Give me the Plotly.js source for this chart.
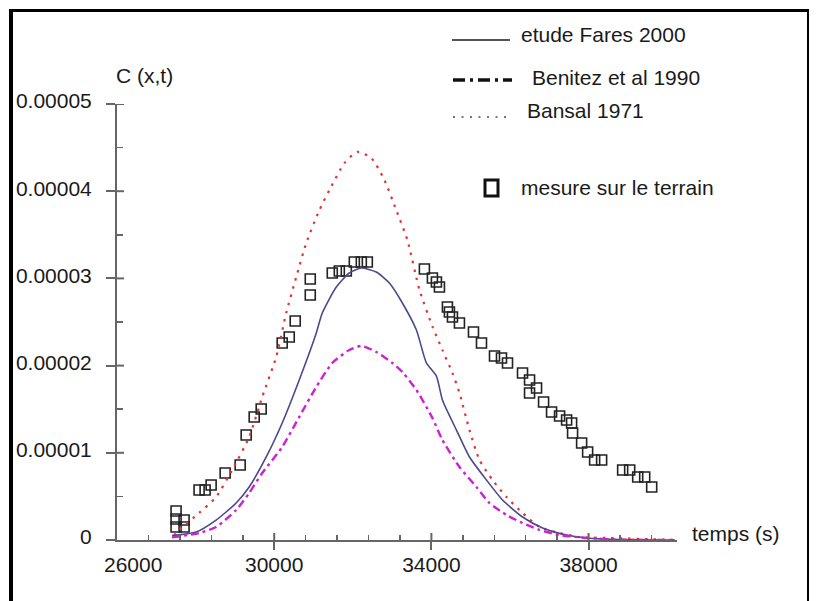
<!DOCTYPE html>
<html>
<head>
<meta charset="utf-8">
<script src="https://cdn.plot.ly/plotly-3.0.1.min.js"></script>
<style>
  html, body { margin: 0; padding: 0; background: #fff; overflow: hidden; }
  #wrap { position: relative; width: 818px; height: 601px; overflow: hidden; }
  #chart { position: absolute; left: 0; top: 0; width: 818px; height: 601px; }
  #frame { position: absolute; left: 9px; top: 9px; width: 800px; height: 700px; box-sizing: border-box;
           border-left: 4px solid #000; border-top: 3px solid #000; border-right: 2px solid #000; pointer-events: none; }
</style>
</head>
<body>
<div id="wrap"><div id="chart"></div><div id="frame"></div></div>
<script>
// ---------- data (time in s, concentration C(x,t)) ----------
const faresT = [27400, 28013, 28522, 29032, 29363, 29797, 30204, 30637, 31071, 31223, 31580, 31911, 32217, 32599, 32931, 33262, 33619, 33873, 34128, 34281, 34638, 34969, 35402, 35810, 36319, 36829, 37441, 37950, 38791, 40200];
const faresC = [0.05e-5, 0.092e-5, 0.229e-5, 0.424e-5, 0.608e-5, 0.952e-5, 1.342e-5, 1.835e-5, 2.374e-5, 2.603e-5, 2.901e-5, 3.062e-5, 3.119e-5, 3.073e-5, 2.947e-5, 2.718e-5, 2.408e-5, 2.03e-5, 1.88e-5, 1.606e-5, 1.261e-5, 0.952e-5, 0.688e-5, 0.459e-5, 0.264e-5, 0.138e-5, 0.057e-5, 0.023e-5, 0.005e-5, 0];

const benitezT = [27400, 28089, 28522, 29032, 29363, 29695, 30204, 30637, 31071, 31478, 31911, 32217, 32599, 33007, 33262, 33619, 34026, 34281, 34714, 35147, 35479, 35912, 36319, 36753, 37262, 37950, 38791, 40200];
const benitezC = [0.03e-5, 0.08e-5, 0.149e-5, 0.344e-5, 0.539e-5, 0.768e-5, 1.067e-5, 1.411e-5, 1.755e-5, 2.03e-5, 2.179e-5, 2.225e-5, 2.156e-5, 2.03e-5, 1.927e-5, 1.72e-5, 1.40e-5, 1.147e-5, 0.837e-5, 0.608e-5, 0.424e-5, 0.287e-5, 0.195e-5, 0.115e-5, 0.057e-5, 0.023e-5, 0.005e-5, 0];

const bansalT = [27450, 27580, 28089, 28522, 28930, 29363, 29695, 30051, 30306, 30561, 30816, 31147, 31402, 31784, 32115, 32472, 32803, 33083, 33389, 33695, 34026, 34281, 34536, 34714, 34969, 35224, 35556, 35912, 36319, 36753, 37262, 37772, 38460, 40200];
const bansalC = [0.05e-5, 0.115e-5, 0.31e-5, 0.493e-5, 0.803e-5, 1.181e-5, 1.64e-5, 2.099e-5, 2.603e-5, 3.016e-5, 3.406e-5, 3.78e-5, 4.01e-5, 4.32e-5, 4.45e-5, 4.38e-5, 4.13e-5, 3.81e-5, 3.44e-5, 2.87e-5, 2.45e-5, 2.179e-5, 1.915e-5, 1.686e-5, 1.261e-5, 0.917e-5, 0.688e-5, 0.493e-5, 0.31e-5, 0.149e-5, 0.08e-5, 0.034e-5, 0.023e-5, 0];

const mesureT = [27503, 27503, 27503, 27707, 27707, 28089, 28242, 28395, 28752, 29134, 29287, 29491, 29669, 30204, 30383, 30535, 30918, 30918, 31478, 31657, 31835, 32039, 32217, 32370, 33822, 34026, 34128, 34205, 34408, 34459, 34536, 34714, 35071, 35275, 35606, 35784, 35937, 36319, 36498, 36498, 36676, 36855, 37058, 37262, 37441, 37568, 37593, 37823, 37976, 38154, 38332, 38867, 39046, 39250, 39428, 39606];
const mesureC = [0.333e-5, 0.241e-5, 0.149e-5, 0.229e-5, 0.149e-5, 0.573e-5, 0.573e-5, 0.631e-5, 0.768e-5, 0.86e-5, 1.204e-5, 1.411e-5, 1.502e-5, 2.259e-5, 2.328e-5, 2.511e-5, 2.81e-5, 2.993e-5, 3.062e-5, 3.085e-5, 3.085e-5, 3.188e-5, 3.188e-5, 3.188e-5, 3.108e-5, 3.005e-5, 2.959e-5, 2.901e-5, 2.672e-5, 2.615e-5, 2.557e-5, 2.489e-5, 2.385e-5, 2.259e-5, 2.11e-5, 2.087e-5, 2.03e-5, 1.915e-5, 1.835e-5, 1.686e-5, 1.743e-5, 1.583e-5, 1.468e-5, 1.422e-5, 1.376e-5, 1.342e-5, 1.227e-5, 1.112e-5, 1.009e-5, 0.917e-5, 0.917e-5, 0.803e-5, 0.803e-5, 0.722e-5, 0.722e-5, 0.608e-5];

const seriesNames = ['etude Fares 2000', 'Benitez et al 1990', 'Bansal 1971', 'mesure sur le terrain'];

const xTickVals = [30000, 34000, 38000];
const xTickText = ['30000', '34000', '38000'];
const xFirstLabel = ['26000'];
const xMinorVals = [26800, 27600, 28400, 29200, 30800, 31600, 32400, 33200, 34800, 35600, 36400, 37200, 38800, 39600];
const yTickVals = [0, 1e-5, 2e-5, 3e-5, 4e-5, 5e-5];
const yTickText = ['0', '0.00001', '0.00002', '0.00003', '0.00004', '0.00005'];
const yMinorVals = [0.5e-5, 1.5e-5, 2.5e-5, 3.5e-5, 4.5e-5];

// ---------- layout geometry ----------
const PL = 117, PR = 677, PT = 104, PB = 540;
const PW = PR - PL, PH = PB - PT;
const px = v => (v - PL) / PW;
const py = v => (PB - v) / PH;
const FONT = 'Liberation Sans, Arial, Helvetica, sans-serif';
const TXT = '#1a1a1a';
const AX = '#666';

const traces = [
  { x: mesureT, y: mesureC, name: seriesNames[3], mode: 'markers', type: 'scatter',
    marker: { symbol: 'square-open', size: 10, color: '#222', line: { width: 1.6, color: '#222' } } },
  { x: bansalT, y: bansalC, name: seriesNames[2], mode: 'lines', type: 'scatter',
    line: { color: '#e03535', width: 2.2, dash: '2.5px,6px', shape: 'spline', smoothing: 0.6 } },
  { x: faresT, y: faresC, name: seriesNames[0], mode: 'lines', type: 'scatter',
    line: { color: '#4a4a8c', width: 1.6, shape: 'spline', smoothing: 0.6 } },
  { x: benitezT, y: benitezC, name: seriesNames[1], mode: 'lines', type: 'scatter',
    line: { color: '#d020d0', width: 2.4, dash: '8px,4px,3px,4px', shape: 'spline', smoothing: 0.6 } }
];

const shapes = [];
// inner half of the major ticks (ticks cross the axis line)
xTickVals.forEach(v => shapes.push({ type: 'line', xref: 'x', yref: 'paper', x0: v, x1: v, y0: 0, y1: 7 / PH,
  line: { color: AX, width: 2 } }));
yTickVals.slice(1).forEach(v => shapes.push({ type: 'line', xref: 'paper', yref: 'y', x0: 0, x1: 7 / PW, y0: v, y1: v,
  line: { color: AX, width: 2 } }));
// legend samples
shapes.push({ type: 'line', xref: 'paper', yref: 'paper', x0: px(452), x1: px(510), y0: py(40), y1: py(40),
  line: { color: '#555', width: 2 } });
shapes.push({ type: 'line', xref: 'paper', yref: 'paper', x0: px(453), x1: px(512), y0: py(80), y1: py(80),
  line: { color: '#111', width: 3.5, dash: '12px,5px,3px,5px' } });
shapes.push({ type: 'line', xref: 'paper', yref: 'paper', x0: px(453), x1: px(512), y0: py(117), y1: py(117),
  line: { color: '#777', width: 2, dash: '2px,6.5px' } });
shapes.push({ type: 'rect', xref: 'paper', yref: 'paper', x0: px(485), x1: px(498), y0: py(196), y1: py(180),
  line: { color: '#111', width: 3 } });

const ann = (text, x, y, xanchor) => ({ text, xref: 'paper', yref: 'paper', x, y, xanchor: xanchor || 'left',
  yanchor: 'middle', showarrow: false, font: { family: FONT, size: 21, color: TXT } });

const annotations = [
  ann(seriesNames[0], px(519), py(35)),
  ann(seriesNames[1], px(530), py(77)),
  ann(seriesNames[2], px(525), py(110)),
  ann(seriesNames[3], px(519), py(187)),
  ann('C (x,t)', px(114), py(75)),
  ann('temps (s)', px(690), py(533)),
  { text: xFirstLabel[0], xref: 'x', yref: 'paper', x: 26000, y: py(564), xanchor: 'center', yanchor: 'middle',
    xshift: 16, showarrow: false, font: { family: FONT, size: 21, color: TXT } }
];

const layout = {
  width: 818, height: 601, autosize: false,
  margin: { l: PL, r: 818 - PR, t: PT, b: 601 - PB, pad: 0 },
  paper_bgcolor: '#fff', plot_bgcolor: '#fff',
  showlegend: false,
  font: { family: FONT, size: 21, color: TXT },
  xaxis: {
    range: [26000, 40250], showgrid: false, zeroline: false,
    showline: true, linecolor: AX, linewidth: 2,
    tickmode: 'array', tickvals: xTickVals, ticktext: xTickText,
    ticks: 'outside', ticklen: 8, tickwidth: 2, tickcolor: AX,
    tickfont: { family: FONT, size: 21, color: TXT }, ticklabelstandoff: -3,
    minor: { tickmode: 'array', tickvals: xMinorVals, ticks: 'inside', ticklen: 5, tickwidth: 1.5, tickcolor: AX, showgrid: false }
  },
  yaxis: {
    range: [0, 5e-5], showgrid: false, zeroline: false,
    showline: true, linecolor: AX, linewidth: 2,
    tickmode: 'array', tickvals: yTickVals, ticktext: yTickText,
    ticks: 'outside', ticklen: 9, tickwidth: 2, tickcolor: AX,
    tickfont: { family: FONT, size: 21, color: TXT }, ticklabelstandoff: 10, ticklabelshift: -3,
    minor: { tickmode: 'array', tickvals: yMinorVals, ticks: 'inside', ticklen: 6, tickwidth: 1.5, tickcolor: AX, showgrid: false }
  },
  shapes, annotations
};

Plotly.newPlot('chart', traces, layout, { staticPlot: true, displayModeBar: false });
</script>
</body>
</html>
